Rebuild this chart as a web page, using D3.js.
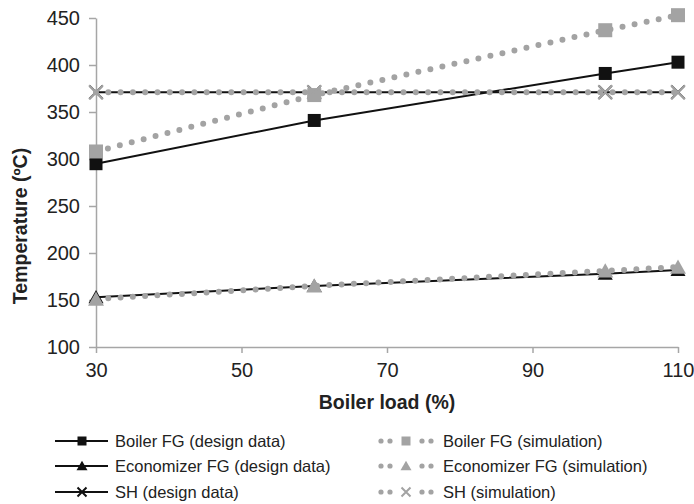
<!DOCTYPE html>
<html lang="en">
<head>
<meta charset="UTF-8">
<title>Temperature vs boiler load</title>
<script src="https://d3js.org/d3.v7.min.js"></script>
<style>
    * { margin: 0; padding: 0; box-sizing: border-box; }
    body { background: #fff; font-family: "Liberation Sans", Arial, sans-serif; }
    svg text { fill: #222; }
</style>
</head>
<body>
<div id="chart"></div>
<script>
// boiler load (%)
const loads = [30, 60, 100, 110];

// temperatures (ºC)
const boilerDesign = [295, 341, 391, 403];
const boilerSim = [308, 368, 437, 453];
const econDesign = [153, 165, 178, 182];
const econSim = [151, 165, 181, 185];
const shDesign = [371, 371, 371, 371];
const shSim = [371, 371, 371, 371];

const xTicks = [30, 50, 70, 90, 110];
const yTicks = [100, 150, 200, 250, 300, 350, 400, 450];

const series = [
    { name: "Boiler FG (design data)", values: boilerDesign, marker: "square", sim: false },
    { name: "Economizer FG (design data)", values: econDesign, marker: "triangle", sim: false },
    { name: "SH (design data)", values: shDesign, marker: "cross", sim: false },
    { name: "Boiler FG (simulation)", values: boilerSim, marker: "square", sim: true },
    { name: "Economizer FG (simulation)", values: econSim, marker: "triangle", sim: true },
    { name: "SH (simulation)", values: shSim, marker: "cross", sim: true }
];

const width = 694, height = 504;
const margin = { top: 18, right: 16, bottom: 157, left: 96 };

const svg = d3.select("#chart").append("svg")
    .attr("width", width)
    .attr("height", height);

const x = d3.scaleLinear().domain([30, 110]).range([margin.left, width - margin.right]);
const y = d3.scaleLinear().domain([100, 450]).range([height - margin.bottom, margin.top]);

const axisColor = "#a6a6a6";
const gray = "#a3a3a3";

// axes
const xAxis = svg.append("g")
    .attr("transform", `translate(0,${height - margin.bottom})`)
    .call(d3.axisBottom(x).tickValues(xTicks).tickSize(6).tickPadding(7).tickSizeOuter(0));
const yAxis = svg.append("g")
    .attr("transform", `translate(${margin.left},0)`)
    .call(d3.axisLeft(y).tickValues(yTicks).tickSize(7).tickPadding(9).tickSizeOuter(0));

[xAxis, yAxis].forEach(g => {
    g.select(".domain").attr("stroke", axisColor).attr("stroke-width", 1.5);
    g.selectAll(".tick line").attr("stroke", axisColor).attr("stroke-width", 1.5);
    g.selectAll(".tick text")
        .attr("font-family", "Liberation Sans, Arial, sans-serif")
        .attr("font-size", 20)
        .attr("fill", "#222");
});
xAxis.selectAll(".tick text").attr("dy", "0.85em");

// axis titles
svg.append("text")
    .attr("x", (margin.left + width - margin.right) / 2)
    .attr("y", 409)
    .attr("text-anchor", "middle")
    .attr("font-size", 19.5)
    .attr("font-weight", "bold")
    .text("Boiler load (%)");

svg.append("text")
    .attr("transform", "translate(27,226) rotate(-90)")
    .attr("text-anchor", "middle")
    .attr("font-size", 19.5)
    .attr("font-weight", "bold")
    .text("Temperature (ºC)");

function drawMarker(g, type, cx, cy, size, color) {
    if (type === "square") {
        g.append("rect")
            .attr("x", cx - size / 2).attr("y", cy - size / 2)
            .attr("width", size).attr("height", size)
            .attr("fill", color);
    } else if (type === "triangle") {
        const h = size * 0.95;
        g.append("path")
            .attr("d", `M${cx},${cy - h / 2 - 1}L${cx + size / 2 + 1},${cy + h / 2}L${cx - size / 2 - 1},${cy + h / 2}Z`)
            .attr("fill", color);
    } else {
        const r = size / 2;
        g.append("path")
            .attr("d", `M${cx - r},${cy - r}L${cx + r},${cy + r}M${cx - r},${cy + r}L${cx + r},${cy - r}`)
            .attr("stroke", color)
            .attr("stroke-width", 2)
            .attr("fill", "none");
    }
}

function lineStyle(sel, s) {
    if (s.sim) {
        sel.attr("stroke", gray)
            .attr("stroke-width", 6)
            .attr("stroke-linecap", "round")
            .attr("stroke-dasharray", "0,12.3");
    } else {
        sel.attr("stroke", "#111").attr("stroke-width", 2);
    }
}

const line = d3.line().x((d, i) => x(loads[i])).y(d => y(d));

series.forEach(s => {
    const g = svg.append("g");
    g.append("path")
        .datum(s.values)
        .attr("fill", "none")
        .attr("d", line)
        .call(lineStyle, s);
    s.values.forEach((v, i) => {
        drawMarker(g, s.marker, x(loads[i]), y(v), s.sim ? 14 : 13, s.sim ? gray : "#111");
    });
});

// legend
const legendRows = [441, 466, 492];
series.forEach((s, i) => {
    const row = i % 3;
    const cy = legendRows[row];
    const g = svg.append("g");
    if (s.sim) {
        // two dots each side of the marker
        [381, 390, 422, 431].forEach(cx => {
            g.append("circle").attr("cx", cx).attr("cy", cy).attr("r", 2.6).attr("fill", gray);
        });
        drawMarker(g, s.marker, 406, cy, 9, gray);
    } else {
        g.append("line")
            .attr("x1", 55).attr("x2", 108)
            .attr("y1", cy).attr("y2", cy)
            .call(lineStyle, s);
        drawMarker(g, s.marker, 82, cy, 9, "#111");
    }
    g.append("text")
        .attr("x", s.sim ? 443 : 115)
        .attr("y", cy)
        .attr("dy", "0.35em")
        .attr("font-size", 16.5)
        .text(s.name);
});
</script>
</body>
</html>
